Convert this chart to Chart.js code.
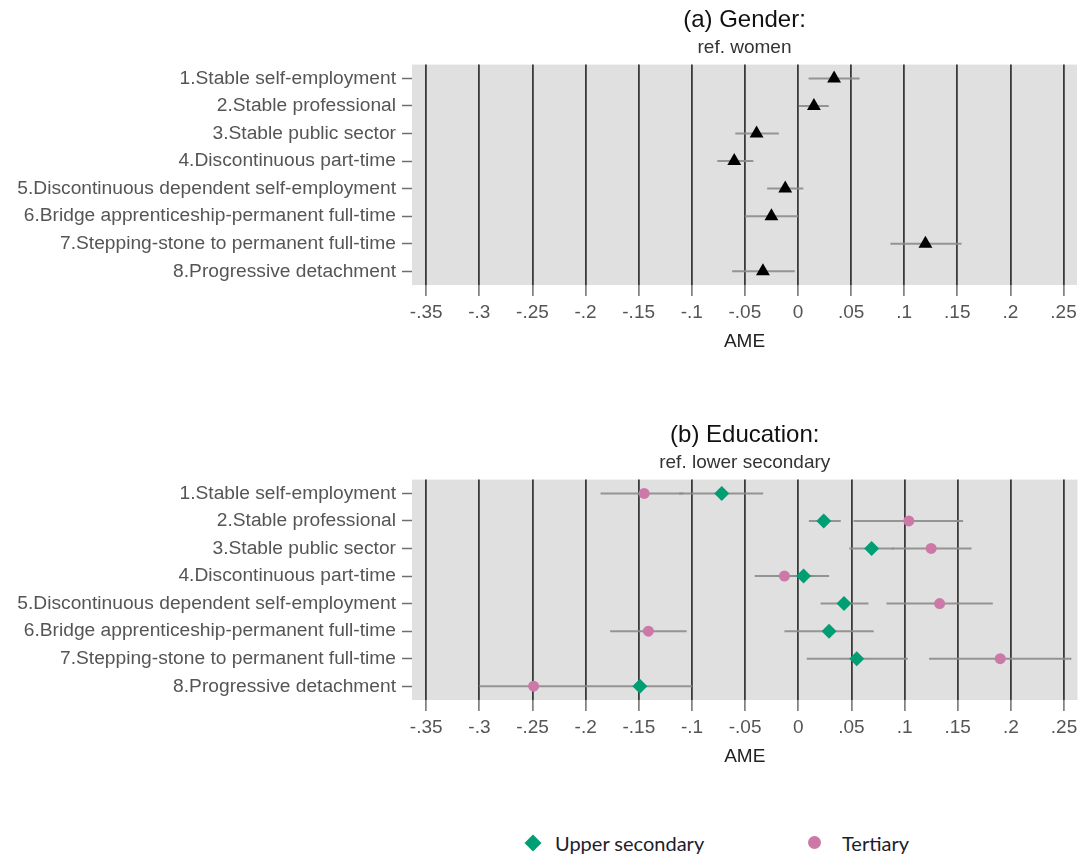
<!DOCTYPE html>
<html>
<head>
<meta charset="utf-8">
<script src="https://cdn.jsdelivr.net/npm/chart.js@4"></script>
<style>
  body { margin: 0; background: #fff; }
  #wrap { position: relative; width: 1085px; height: 860px; }
  canvas { position: absolute; left: 0; }
  #legend { position: absolute; top: 830px; left: 0; width: 1085px; height: 26px;
            font-family: Lato, "Open Sans", sans-serif; font-size: 20px; color: #1d1d2b; }
  .item { position: absolute; top: 0; line-height: 26px; }
  .diamond { position: absolute; width: 12px; height: 12px; background: #009e73; transform: rotate(45deg); }
  .dot { position: absolute; width: 13px; height: 13px; border-radius: 50%; background: #cc79a7; }
</style>
</head>
<body>
<div id="wrap">
  <canvas id="gender" width="1085" height="370" style="top:0px"></canvas>
  <canvas id="education" width="1085" height="370" style="top:415px"></canvas>
  <div id="legend">
    <span class="diamond" style="left:527px; top:7px"></span>
    <span class="item" style="left:555px">Upper secondary</span>
    <span class="dot" style="left:808px; top:6px"></span>
    <span class="item" style="left:842px">Tertiary</span>
  </div>
</div>
<script>
// Categories (rows, top to bottom)
const categories = [
  '1.Stable self-employment',
  '2.Stable professional',
  '3.Stable public sector',
  '4.Discontinuous part-time',
  '5.Discontinuous dependent self-employment',
  '6.Bridge apprenticeship-permanent full-time',
  '7.Stepping-stone to permanent full-time',
  '8.Progressive detachment'
];

// x axis ticks
const xTicks = [-0.35, -0.3, -0.25, -0.2, -0.15, -0.1, -0.05, 0, 0.05, 0.1, 0.15, 0.2, 0.25];
const xTickLabels = ['-.35', '-.3', '-.25', '-.2', '-.15', '-.1', '-.05', '0', '.05', '.1', '.15', '.2', '.25'];

// (a) Gender, ref. women
const genderAME = [0.034, 0.015, -0.039, -0.060, -0.012, -0.025, 0.120, -0.033];
const genderLo  = [0.010, 0.001, -0.059, -0.076, -0.029, -0.050, 0.087, -0.062];
const genderHi  = [0.058, 0.029, -0.018, -0.042, 0.005, 0.000, 0.154, -0.003];

// (b) Education, ref. lower secondary
const upperAME = [-0.072, 0.024, 0.069, 0.005, 0.043, 0.029, 0.055, -0.149];
const upperLo  = [-0.112, 0.010, 0.048, -0.020, 0.021, -0.013, 0.008, -0.198];
const upperHi  = [-0.033, 0.040, 0.090, 0.029, 0.066, 0.071, 0.103, -0.100];

const tertiaryAME = [-0.145, 0.104, 0.125, -0.013, 0.133, -0.141, 0.190, -0.249];
const tertiaryLo  = [-0.186, 0.052, 0.088, -0.041, 0.083, -0.177, 0.123, -0.300];
const tertiaryHi  = [-0.108, 0.155, 0.163, 0.015, 0.183, -0.105, 0.257, -0.198];

const FONT = '"Liberation Sans", Arial, sans-serif';

// grey plot background
const plotBg = {
  id: 'plotBg',
  beforeDraw(chart) {
    const { ctx, chartArea: a } = chart;
    ctx.save();
    ctx.fillStyle = '#e0e0e0';
    ctx.fillRect(a.left, a.top, a.right - a.left, a.bottom - a.top);
    ctx.restore();
  }
};

function ciDatasets(lo, hi) {
  return lo.map((l, i) => ({
    data: [{ x: l, y: i + 1 }, { x: hi[i], y: i + 1 }],
    showLine: true,
    borderColor: 'rgba(140,140,140,0.9)',
    borderWidth: 2,
    pointRadius: 0,
    order: 2
  }));
}

function markerDataset(values, style, color, radius) {
  return {
    data: values.map((v, i) => ({ x: v, y: i + 1 })),
    pointStyle: style,
    pointRadius: radius,
    pointBackgroundColor: color,
    pointBorderWidth: 0,
    order: 0
  };
}

function makePanel(id, title, subtitle, datasets) {
  return new Chart(document.getElementById(id), {
    type: 'scatter',
    data: { datasets: datasets },
    options: {
      responsive: false,
      animation: false,
      layout: { padding: { left: 0, right: 6, top: 0, bottom: 0 } },
      plugins: {
        legend: { display: false },
        tooltip: { enabled: false },
        title: {
          display: true, text: title, fullSize: false, color: '#111',
          font: { family: FONT, size: 24, weight: 'normal' },
          padding: { top: 6, bottom: 0 }
        },
        subtitle: {
          display: true, text: subtitle, fullSize: false, color: '#333',
          font: { family: FONT, size: 19, weight: 'normal' },
          padding: { top: 2, bottom: 5 }
        }
      },
      scales: {
        x: {
          type: 'linear',
          min: -0.3634,
          max: 0.2627,
          afterBuildTicks: s => { s.ticks = xTicks.map(v => ({ value: v })); },
          afterFit: s => { s.height = 85; },
          ticks: {
            autoSkip: false, maxRotation: 0, padding: 5,
            color: '#555', font: { family: FONT, size: 19 },
            callback: (v, i) => xTickLabels[i]
          },
          grid: {
            color: '#3a3a3a', lineWidth: 1.8,
            tickColor: '#6e6e6e', tickWidth: 1.5, tickLength: 11
          },
          border: { display: false },
          title: {
            display: true, text: 'AME', color: '#222',
            font: { family: FONT, size: 19 },
            padding: { top: 0, bottom: 17 }
          }
        },
        y: {
          type: 'linear',
          reverse: true,
          min: 0.5,
          max: 8.5,
          afterBuildTicks: s => { s.ticks = categories.map((c, i) => ({ value: i + 1 })); },
          afterFit: s => { s.width = 412; },
          ticks: {
            autoSkip: false, padding: 6,
            color: '#555', font: { family: FONT, size: 19.2 },
            callback: (v, i) => categories[i]
          },
          grid: {
            drawOnChartArea: false, drawTicks: true,
            color: '#6e6e6e', tickColor: '#6e6e6e', tickWidth: 1.5, tickLength: 10
          },
          border: { display: false }
        }
      }
    },
    plugins: [plotBg]
  });
}

makePanel('gender', '(a) Gender:', 'ref. women', [
  markerDataset(genderAME, 'triangle', '#000', 8),
  ...ciDatasets(genderLo, genderHi)
]);

makePanel('education', '(b) Education:', 'ref. lower secondary', [
  markerDataset(upperAME, 'rectRot', '#009e73', 7.5),
  markerDataset(tertiaryAME, 'circle', '#cc79a7', 5.5),
  ...ciDatasets(upperLo, upperHi),
  ...ciDatasets(tertiaryLo, tertiaryHi)
]);
</script>
</body>
</html>
